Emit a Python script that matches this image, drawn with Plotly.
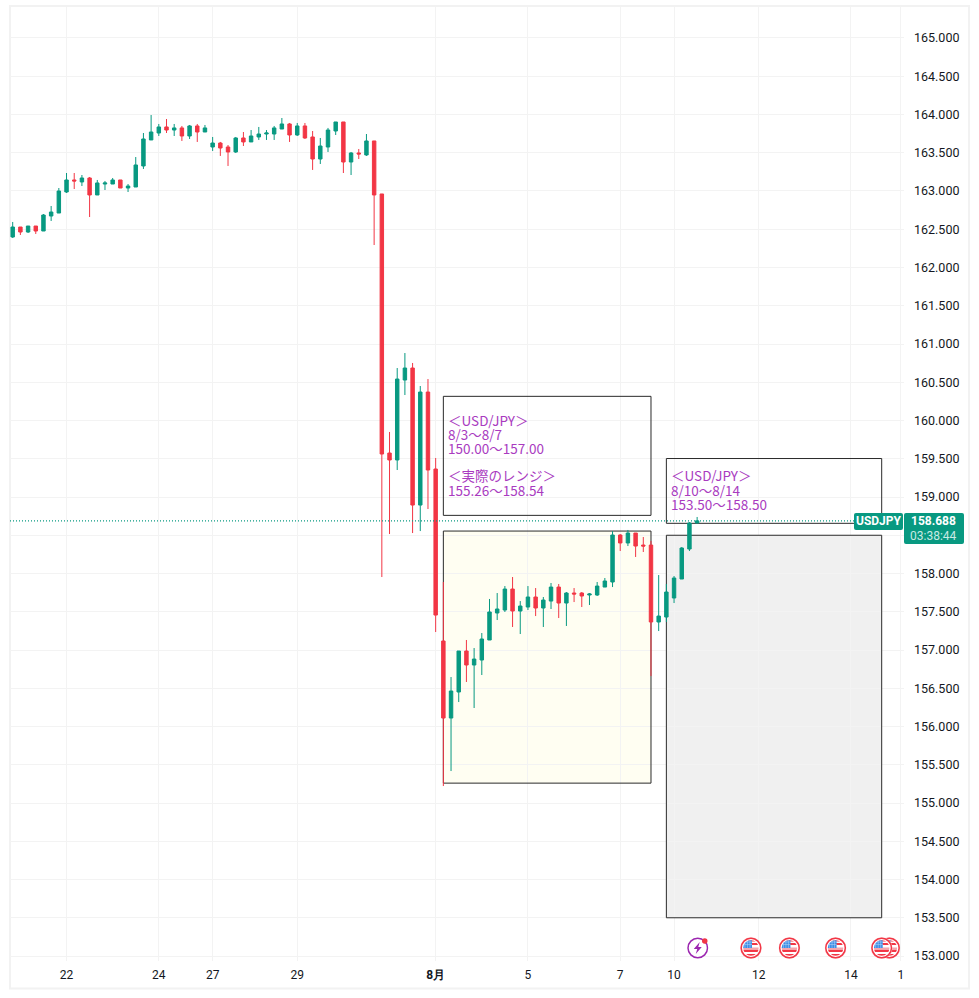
from urllib.parse import quote
import plotly.graph_objects as go

# ---------------------------
# Candles (USD/JPY, 4H)
# ---------------------------
opens = [
    162.399, 162.529, 162.464, 162.542, 162.477, 162.673, 162.712, 162.987, 163.144, 163.118,
    163.170, 162.948, 163.091, 163.091, 163.144, 163.039, 163.052, 163.327, 163.667, 163.758,
    163.837, 163.797, 163.824, 163.719, 163.850, 163.771, 163.575, 163.627, 163.575, 163.510,
    163.693, 163.641, 163.706, 163.745, 163.745, 163.810, 163.876, 163.732, 163.850, 163.706,
    163.418, 163.575, 163.784, 163.902, 163.379, 163.497, 163.471, 163.654, 162.961, 159.575,
    159.484, 160.529, 160.686, 158.895, 160.372, 159.366, 157.118, 156.111, 156.451, 156.987,
    156.804, 156.869, 157.131, 157.484, 157.523, 157.797, 157.510, 157.562, 157.693, 157.549,
    157.640, 157.823, 157.614, 157.745, 157.745, 157.719, 157.719, 157.823, 157.889, 158.503,
    158.399, 158.529, 158.372, 158.372, 157.366, 157.431, 157.680, 157.928, 158.320, 158.660,
]
highs = [
    162.595, 162.529, 162.542, 162.542, 162.699, 162.804, 163.039, 163.235, 163.235, 163.209,
    163.183, 163.144, 163.131, 163.170, 163.144, 163.091, 163.444, 163.758, 163.993, 163.876,
    163.941, 163.876, 163.850, 163.863, 163.876, 163.863, 163.706, 163.641, 163.601, 163.706,
    163.771, 163.797, 163.837, 163.797, 163.850, 163.954, 163.889, 163.889, 163.889, 163.784,
    163.693, 163.824, 163.902, 163.902, 163.510, 163.549, 163.745, 163.654, 162.961, 159.850,
    160.686, 160.882, 160.752, 160.451, 160.542, 159.510, 157.889, 156.647, 156.987, 157.131,
    157.026, 157.222, 157.667, 157.745, 157.836, 157.954, 157.640, 157.836, 157.810, 157.693,
    157.876, 157.863, 157.758, 157.810, 157.758, 157.745, 157.889, 157.941, 158.555, 158.516,
    158.569, 158.529, 158.477, 158.425, 157.980, 157.863, 157.967, 158.346, 158.673, 158.739,
]
lows = [
    162.386, 162.425, 162.451, 162.438, 162.477, 162.608, 162.712, 162.974, 163.026, 163.065,
    162.660, 162.948, 163.013, 163.091, 163.039, 162.987, 163.052, 163.288, 163.667, 163.719,
    163.758, 163.719, 163.654, 163.680, 163.641, 163.771, 163.523, 163.458, 163.327, 163.497,
    163.588, 163.641, 163.667, 163.667, 163.667, 163.810, 163.641, 163.719, 163.680, 163.275,
    163.353, 163.510, 163.732, 163.235, 163.209, 163.418, 163.458, 162.294, 157.954, 158.516,
    159.353, 160.333, 158.529, 158.555, 158.843, 157.235, 155.222, 155.418, 156.320, 156.582,
    156.242, 156.673, 157.131, 157.392, 157.497, 157.301, 157.209, 157.523, 157.444, 157.301,
    157.536, 157.418, 157.314, 157.627, 157.562, 157.588, 157.706, 157.823, 157.823, 158.294,
    158.359, 158.216, 158.281, 156.660, 157.248, 157.366, 157.614, 157.928, 158.294, 158.660,
]
closes = [
    162.529, 162.464, 162.542, 162.477, 162.686, 162.725, 163.000, 163.144, 163.131, 163.170,
    162.948, 163.105, 163.105, 163.144, 163.039, 163.065, 163.340, 163.680, 163.771, 163.837,
    163.797, 163.824, 163.719, 163.850, 163.771, 163.824, 163.627, 163.562, 163.510, 163.693,
    163.641, 163.719, 163.745, 163.758, 163.824, 163.876, 163.732, 163.850, 163.693, 163.418,
    163.588, 163.797, 163.902, 163.379, 163.497, 163.484, 163.654, 162.948, 159.562, 159.484,
    160.542, 160.686, 158.895, 160.372, 159.353, 157.457, 156.111, 156.464, 156.987, 156.804,
    156.882, 157.144, 157.497, 157.536, 157.797, 157.510, 157.575, 157.693, 157.549, 157.653,
    157.823, 157.614, 157.745, 157.732, 157.706, 157.732, 157.836, 157.902, 158.503, 158.399,
    158.529, 158.359, 158.359, 157.366, 157.444, 157.758, 157.941, 158.333, 158.660, 158.688,
]

# time axis, in candle numbers
x_tick_vals = [7, 19, 26, 37, 55, 67, 79, 86, 97, 109, 115.5]
x_tick_text = ["22", "24", "27", "29", "<b>8月</b>", "5", "7", "10", "12", "14", "1"]

# drawn rectangles: candle from, candle to, price low, price high
forecast_box = [56, 83, 158.76, 160.316]
actual_box = [56, 83, 155.26, 158.555]
next_text_box = [85, 113, 158.656, 159.503]
next_range_box = [85, 113, 153.5, 158.5]

# notes: (candle, price, text)
notes = [
    (56.48, 160.007, "＜USD/JPY＞"),
    (56.48, 159.820, "8/3〜8/7"),
    (56.48, 159.637, "150.00〜157.00"),
    (56.48, 159.288, "＜実際のレンジ＞"),
    (56.48, 159.088, "155.26〜158.54"),
    (85.44, 159.288, "＜USD/JPY＞"),
    (85.44, 159.090, "8/10〜8/14"),
    (85.44, 158.909, "153.50〜158.50"),
]

last_price = 158.688
event_price = 153.105
flag_events = [114, 113, 107, 101, 96]
bolt_events = [89.08]

UP = "#089981"
DOWN = "#F23645"
GRID = "#F3F3F3"
TEXT = "#131722"
NOTE = "#A93BBF"
BOX_LINE = "#2A2A2A"

# plot area in window pixels
L, R, T, B = 10, 904, 7, 961


def px_x(px):
    return (px - L) / (R - L)


def px_y(py):
    return (B - py) / (B - T)


def round_rect(x0, y0, x1, y1, r=2):
    # rounded rectangle path in paper units
    a, b, c, d = px_x(x0), px_x(x1), px_y(y0), px_y(y1)
    rx, ry = r / (R - L), r / (B - T)
    return (
        f"M{a + rx},{c} L{b - rx},{c} Q{b},{c} {b},{c - ry} L{b},{d + ry} Q{b},{d} {b - rx},{d} "
        f"L{a + rx},{d} Q{a},{d} {a},{d + ry} L{a},{c - ry} Q{a},{c} {a + rx},{c} Z"
    )


def svg_uri(svg):
    return "data:image/svg+xml," + quote(svg)


FLAG_SVG = svg_uri(
    '<svg xmlns="http://www.w3.org/2000/svg" width="44" height="44" viewBox="0 0 44 44">'
    '<defs><clipPath id="c"><circle cx="22" cy="22" r="15.5"/></clipPath></defs>'
    '<circle cx="22" cy="22" r="21.5" fill="#F9C9CE"/>'
    '<circle cx="22" cy="22" r="19.5" fill="#fff" stroke="#F23645" stroke-width="3"/>'
    '<g clip-path="url(#c)"><rect x="0" y="21" width="44" height="5" fill="#F5A6AE"/>'
    '<rect x="0" y="26" width="44" height="4" fill="#F23645"/>'
    '<rect x="0" y="30" width="44" height="4" fill="#fff"/>'
    '<rect x="0" y="34" width="44" height="4" fill="#F23645"/>'
    '<rect x="0" y="5" width="44" height="4" fill="#F23645"/>'
    '<rect x="23" y="12" width="20" height="4" fill="#F23645"/>'
    '<rect x="5" y="5" width="19" height="17" fill="#3C8DE6"/>'
    '<path d="M10 5V22M15 5V22M20 5V22M5 10H24M5 15H24" stroke="#BBD9F7" stroke-width="1"/></g>'
    "</svg>"
)
BOLT_SVG = svg_uri(
    '<svg xmlns="http://www.w3.org/2000/svg" width="44" height="44" viewBox="0 0 44 44">'
    '<circle cx="22" cy="22" r="19.5" fill="#fff" stroke="#9C27B0" stroke-width="3"/>'
    '<path d="M26 10L14 24H21L18 34L30 20H23Z" fill="#9C27B0"/>'
    '<circle cx="36" cy="8" r="5.5" fill="#F23645"/></svg>'
)

# ---------------------------
# Candles
# ---------------------------
fig = go.Figure()
fig.add_trace(
    go.Candlestick(
        x=list(range(len(opens))),
        open=opens,
        high=highs,
        low=lows,
        close=closes,
        increasing=dict(line=dict(color=UP, width=1), fillcolor=UP),
        decreasing=dict(line=dict(color=DOWN, width=1), fillcolor=DOWN),
        whiskerwidth=0,
        showlegend=False,
        hoverinfo="skip",
    )
)

# ---------------------------
# Boxes and price line
# ---------------------------
fills = [
    (forecast_box, "#FFFFFF"),
    (actual_box, "#FFFEF2"),
    (next_text_box, "#FFFFFF"),
    (next_range_box, "#F0F0F0"),
]
for box, fill in fills:
    # fill under the grid, outline over it but still under the candles
    fig.add_shape(
        type="rect", xref="x", yref="y",
        x0=box[0], x1=box[1], y0=box[2], y1=box[3],
        line=dict(width=0), fillcolor=fill, layer="below",
    )
    fig.add_shape(
        type="rect", xref="x", yref="y",
        x0=box[0], x1=box[1], y0=box[2], y1=box[3],
        line=dict(color=BOX_LINE, width=1), fillcolor="rgba(0,0,0,0)", layer="between",
    )

fig.add_shape(
    type="line", xref="paper", yref="y",
    x0=0, x1=1, y0=last_price, y1=last_price,
    line=dict(color=UP, width=1.3, dash="1px,2px"), layer="above",
)

# card border round the whole widget
fig.add_shape(
    type="rect", xref="paper", yref="paper",
    x0=px_x(10), x1=px_x(969), y0=px_y(988.5), y1=px_y(6),
    line=dict(color="#F2F2F2", width=2), layer="below",
)

# price badges, above the axis labels
for x0, y0, x1, y1 in [(854, 513, 903, 530), (904, 513, 964, 544)]:
    fig.add_shape(
        type="path", xref="paper", yref="paper",
        path=round_rect(x0, y0, x1, y1),
        fillcolor=UP, line=dict(width=0), layer="above",
    )

# ---------------------------
# Text
# ---------------------------
for x, y, text in notes:
    fig.add_annotation(
        x=x, y=y, xref="x", yref="y", text=text, showarrow=False,
        xanchor="left", yanchor="middle", borderpad=0,
        font=dict(family="Noto Sans CJK JP", size=13.5, color=NOTE),
    )

badge_labels = [
    (879, 521, "<b>USDJPY</b>", 12, "#FFFFFF"),
    (933, 521, "<b>158.688</b>", 12, "#FFFFFF"),
    (933, 536, "03:38:44", 12, "#C9EAE4"),
]
for px, py, text, size, color in badge_labels:
    fig.add_annotation(
        x=px_x(px), y=px_y(py), xref="paper", yref="paper", text=text, showarrow=False,
        xanchor="center", yanchor="middle", borderpad=0,
        font=dict(family="Roboto", size=size, color=color),
    )

# ---------------------------
# Event icons
# ---------------------------
images = []
for x in flag_events:
    images.append(dict(source=FLAG_SVG, x=x, y=event_price))
for x in bolt_events:
    images.append(dict(source=BOLT_SVG, x=x, y=event_price))
for img in images:
    fig.add_layout_image(
        **img, xref="x", yref="y", sizex=22 / 7.69, sizey=22 / 76.5,
        xanchor="center", yanchor="middle", sizing="stretch", layer="above",
    )

# ---------------------------
# Layout
# ---------------------------
fig.update_layout(
    width=979,
    height=998,
    autosize=False,
    margin=dict(l=L, r=979 - R, t=T, b=998 - B, pad=0),
    paper_bgcolor="#FFFFFF",
    plot_bgcolor="#FFFFFF",
    showlegend=False,
    hovermode=False,
    boxgap=0.36,
    font=dict(family="Roboto", color=TEXT),
)
fig.update_xaxes(
    range=[-0.351, 115.9],
    tickmode="array",
    tickvals=x_tick_vals,
    ticktext=x_tick_text,
    tickangle=0,
    showgrid=True,
    gridcolor=GRID,
    gridwidth=1,
    zeroline=False,
    showline=False,
    ticks="",
    ticklabelstandoff=5,
    tickfont=dict(family="Roboto", size=12, color=TEXT),
    rangeslider=dict(visible=False),
)
fig.update_yaxes(
    range=[152.935, 165.405],
    side="right",
    dtick=0.5,
    tick0=153,
    tickformat=".3f",
    showgrid=True,
    gridcolor=GRID,
    gridwidth=1,
    zeroline=False,
    showline=False,
    ticks="",
    ticklabelstandoff=9,
    tickfont=dict(family="Roboto", size=12.5, color=TEXT),
)

fig.write_html(
    "out.html",
    config={"displayModeBar": False},
    post_script="document.body.style.margin='0';",
)
